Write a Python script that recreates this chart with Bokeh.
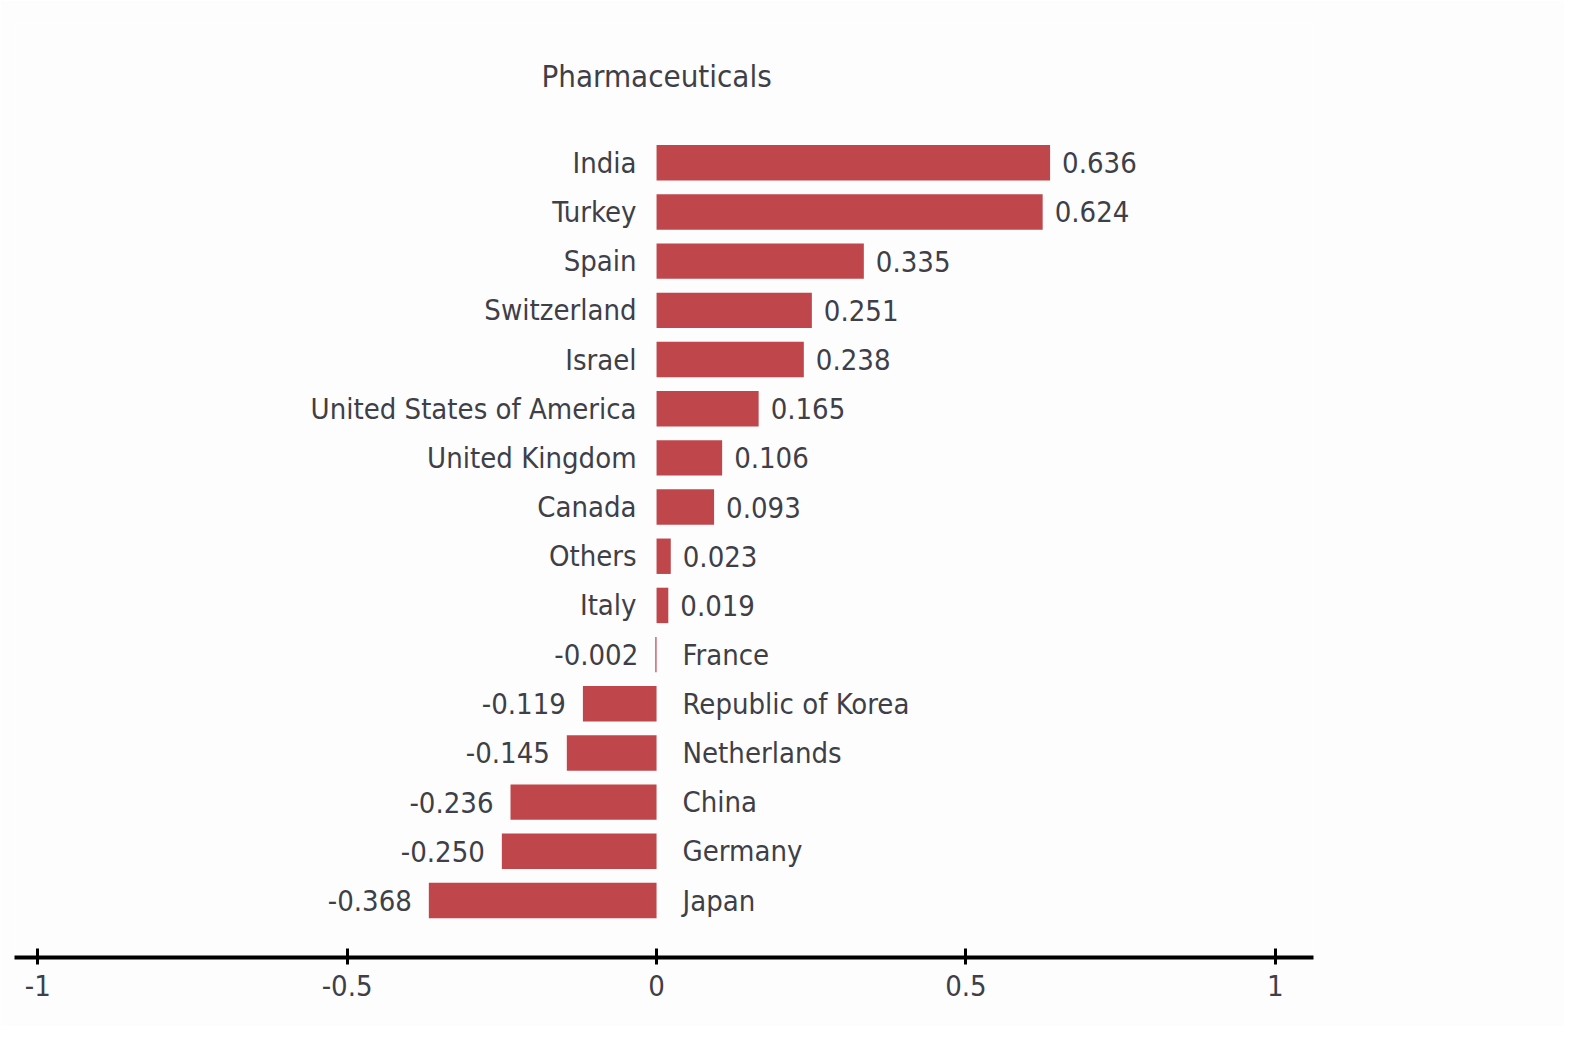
import numpy as np
from bokeh.plotting import figure
from bokeh.models import ColumnDataSource, Range1d, Label, FixedTicker
from bokeh.core.properties import value
from bokeh.embed import file_html
from bokeh.resources import INLINE

countries = ["India", "Turkey", "Spain", "Switzerland", "Israel", "United States of America",
             "United Kingdom", "Canada", "Others", "Italy", "France", "Republic of Korea",
             "Netherlands", "China", "Germany", "Japan"]
values = [0.636, 0.624, 0.335, 0.251, 0.238, 0.165, 0.106, 0.093, 0.023, 0.019,
          -0.002, -0.119, -0.145, -0.236, -0.250, -0.368]
ticks = [-1, -0.5, 0, 0.5, 1]
tick_labels = ["-1", "-0.5", "0", "0.5", "1"]
title_text = "Pharmaceuticals"

FONT = "DejaVu Sans Condensed"
TXT = "#3f3f48"
BAR = "#bf464b"
FS = "29px"

n = len(countries)
ypos = list(np.arange(n)[::-1].astype(float))
labels_txt = ["%.3f" % v for v in values]

pos = [i for i in range(n) if values[i] >= 0]
neg = [i for i in range(n) if values[i] < 0]

def sub(idx):
    return ColumnDataSource(dict(
        y=[ypos[i] for i in idx], v=[values[i] for i in idx],
        name=[countries[i] for i in idx], lab=[labels_txt[i] for i in idx],
        zero=[0.0 for _ in idx]))

src_pos = sub(pos)
src_neg = sub(neg)

p = figure(width=1564, height=1026, output_backend="svg", toolbar_location=None,
           x_range=Range1d(-1.0376, 1.0617), y_range=Range1d(-1.159, 17.853),
           min_border_left=14, min_border_right=251, min_border_top=22, min_border_bottom=69,
           background_fill_color="#fdfdfd", border_fill_color="#fdfdfd")
p.outline_line_color = None
p.grid.visible = False
p.yaxis.visible = False

src_all = ColumnDataSource(dict(y=ypos, v=values))
p.hbar(y="y", right="v", left=0, height=0.72, source=src_all, fill_color=BAR, line_color=None)

common = dict(text_font=value(FONT), text_font_size=FS, text_color=TXT, text_baseline="middle")
p.text(x="zero", y="y", text="name", source=src_pos, x_offset=-20, text_align="right", **common)
p.text(x="v", y="y", text="lab", source=src_pos, x_offset=12, text_align="left", **common)
p.text(x="zero", y="y", text="name", source=src_neg, x_offset=26, text_align="left", **common)
p.text(x="v", y="y", text="lab", source=src_neg, x_offset=-17, text_align="right", **common)

p.add_layout(Label(x=0, y=16.76, text=title_text, text_font=FONT, text_font_size="31px",
                   text_color=TXT, text_align="center", text_baseline="middle"))

ax = p.xaxis[0]
ax.ticker = FixedTicker(ticks=ticks)
ax.major_label_overrides = {t: l for t, l in zip(ticks, tick_labels)}
ax.minor_tick_line_color = None
ax.axis_line_width = 4
ax.axis_line_color = "black"
ax.major_tick_line_width = 3
ax.major_tick_line_color = "black"
ax.major_tick_in = 9
ax.major_tick_out = 7
ax.major_label_standoff = 10
ax.major_label_text_font = FONT
ax.major_label_text_font_size = FS
ax.major_label_text_color = TXT

open("out.html", "w").write(file_html(p, INLINE))
